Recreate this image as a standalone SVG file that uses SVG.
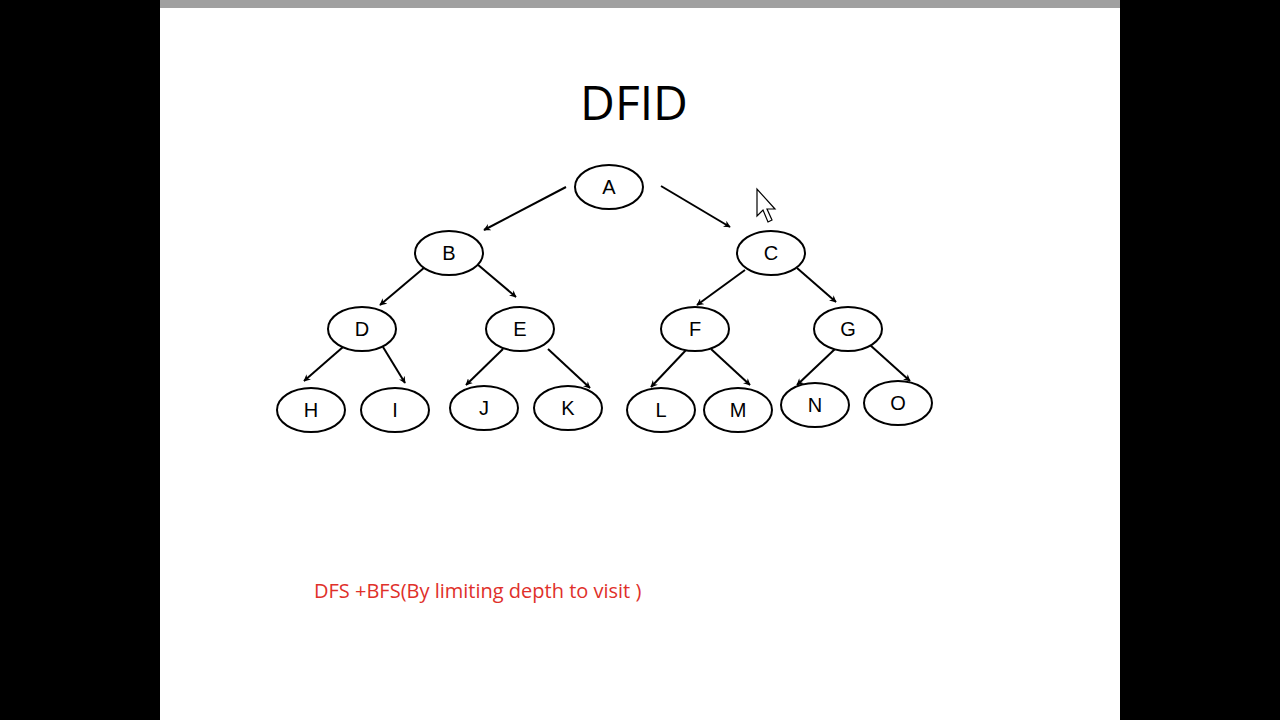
<svg xmlns="http://www.w3.org/2000/svg" width="1280" height="720" viewBox="0 0 1280 720">
<defs>
<marker id="ah" viewBox="0 0 10 10" refX="9" refY="5" markerWidth="7" markerHeight="7" orient="auto" markerUnits="userSpaceOnUse">
<path d="M0,0 L10,5 L0,10 L3,5 z" fill="#000"/>
</marker>
<style>
.n ellipse{fill:#fff;stroke:#000;stroke-width:2}
.n text{font-family:"Liberation Sans",Arial,sans-serif;font-size:20px;text-anchor:middle;dominant-baseline:central;fill:#000}
.e line{stroke:#000;stroke-width:2;marker-end:url(#ah)}
</style>
</defs>
<rect width="1280" height="720" fill="#000"/>
<rect x="160" y="0" width="960" height="720" fill="#fff"/>
<rect x="160" y="0" width="960" height="8" fill="#a0a0a0"/>
<text x="634" y="120" font-family="Open Sans,Liberation Sans,sans-serif" font-size="48" text-anchor="middle" fill="#000">DFID</text>
<g id="edges" class="e">
<line x1="566" y1="187" x2="484" y2="230"/>
<line x1="661" y1="186" x2="730" y2="227"/>
<line x1="425" y1="267" x2="380" y2="305"/>
<line x1="477" y1="264" x2="516" y2="297"/>
<line x1="745" y1="270" x2="697" y2="305"/>
<line x1="797" y1="268" x2="836" y2="302"/>
<line x1="343" y1="347" x2="304" y2="381"/>
<line x1="383" y1="347" x2="405" y2="383"/>
<line x1="503" y1="349" x2="466" y2="385"/>
<line x1="548" y1="349" x2="590" y2="388"/>
<line x1="687" y1="349" x2="651" y2="387"/>
<line x1="711" y1="349" x2="750" y2="385"/>
<line x1="835" y1="349" x2="797" y2="385"/>
<line x1="870" y1="345" x2="910" y2="381"/>
</g>
<g id="A" class="n"><ellipse cx="609" cy="187" rx="34" ry="22"/><text x="609" y="187">A</text></g>
<g id="B" class="n"><ellipse cx="449" cy="253" rx="34" ry="22"/><text x="449" y="253">B</text></g>
<g id="C" class="n"><ellipse cx="771" cy="253" rx="34" ry="22"/><text x="771" y="253">C</text></g>
<g id="D" class="n"><ellipse cx="362" cy="329" rx="34" ry="22"/><text x="362" y="329">D</text></g>
<g id="E" class="n"><ellipse cx="520" cy="329" rx="34" ry="22"/><text x="520" y="329">E</text></g>
<g id="F" class="n"><ellipse cx="695" cy="329" rx="34" ry="22"/><text x="695" y="329">F</text></g>
<g id="G" class="n"><ellipse cx="848" cy="329" rx="34" ry="22"/><text x="848" y="329">G</text></g>
<g id="H" class="n"><ellipse cx="311" cy="410" rx="34" ry="22"/><text x="311" y="410">H</text></g>
<g id="I" class="n"><ellipse cx="395" cy="410" rx="34" ry="22"/><text x="395" y="410">I</text></g>
<g id="J" class="n"><ellipse cx="484" cy="408" rx="34" ry="22"/><text x="484" y="408">J</text></g>
<g id="K" class="n"><ellipse cx="568" cy="408" rx="34" ry="22"/><text x="568" y="408">K</text></g>
<g id="L" class="n"><ellipse cx="661" cy="410" rx="34" ry="22"/><text x="661" y="410">L</text></g>
<g id="M" class="n"><ellipse cx="738" cy="410" rx="34" ry="22"/><text x="738" y="410">M</text></g>
<g id="N" class="n"><ellipse cx="815" cy="405" rx="34" ry="22"/><text x="815" y="405">N</text></g>
<g id="O" class="n"><ellipse cx="898" cy="403" rx="34" ry="22"/><text x="898" y="403">O</text></g>
<path d="M757,189 L757,216 L763,210 L768,222 L772,220 L767,209 L775,209 Z" fill="#fff" stroke="#000" stroke-width="1.2"/>
<text x="314" y="598" font-family="Open Sans,Liberation Sans,sans-serif" font-size="20" fill="#e0302a">DFS +BFS(By limiting depth to visit )</text>
</svg>
